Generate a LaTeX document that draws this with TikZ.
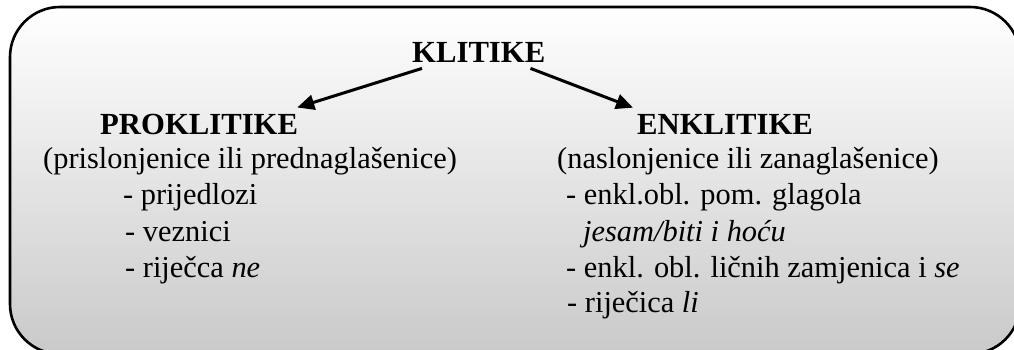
\documentclass[tikz,border=0pt]{standalone}
\usepackage{fontspec}
\setmainfont{Liberation Serif}
\usetikzlibrary{arrows.meta}
\tikzset{
  txt/.style={inner sep=0pt, anchor=base west, font=\fontsize{30.4}{36}\selectfont},
  head/.style={inner sep=0pt, anchor=base west, font=\fontsize{30.7}{36}\selectfont\bfseries},
  arr/.style={line width=3pt, -{Triangle[length=17pt,width=15pt]}},
  panel/.style={line width=2.6pt, draw=black, rounded corners=50pt, top color=white, bottom color=black!21}
}
\begin{document}
\begin{tikzpicture}[x=1pt,y=-1pt]
\useasboundingbox (0,0) rectangle (1014,350);
\clip (0,0) rectangle (1014,350);
\fill[white] (0,0) rectangle (1014,350);
\path[panel] (10,7) rectangle (1020,354);
% headings
\node[head] (klitike) at (412,62.7) {KLITIKE};
\node[head] (prok) at (100,135) {PROKLITIKE};
\node[head] (enk) at (637,135) {ENKLITIKE};
% left block
\node[txt] (l1) at (43,168) {(prislonjenice ili prednaglašenice)};
\node[txt] (l2) at (123,204.5) {- prijedlozi};
\node[txt] (l3) at (125,241) {- veznici};
\node[txt] (l4) at (125,277.5) {- riječca \textit{ne}};
% right block
\node[txt] (r1) at (557,168) {(naslonjenice ili zanaglašenice)};
\node[txt] (r2) at (566,204.5) {- enkl.obl. pom. glagola};
\node[txt] (r3) at (583,241) {\textit{jesam/biti i hoću}};
\node[txt] (r4) at (566,277.5) {- enkl. obl. ličnih zamjenica i \textit{se}};
\node[txt] (r5) at (567,312) {- riječica \textit{li}};
% arrows
\draw[arr] ([xshift=10pt,yshift=-5.5pt]klitike.south west) -- ([xshift=-1pt,yshift=7pt]prok.north east);
\draw[arr] ([xshift=-15pt,yshift=-5.5pt]klitike.south east) -- ([xshift=-4pt,yshift=7pt]enk.north west);
\end{tikzpicture}
\end{document}
